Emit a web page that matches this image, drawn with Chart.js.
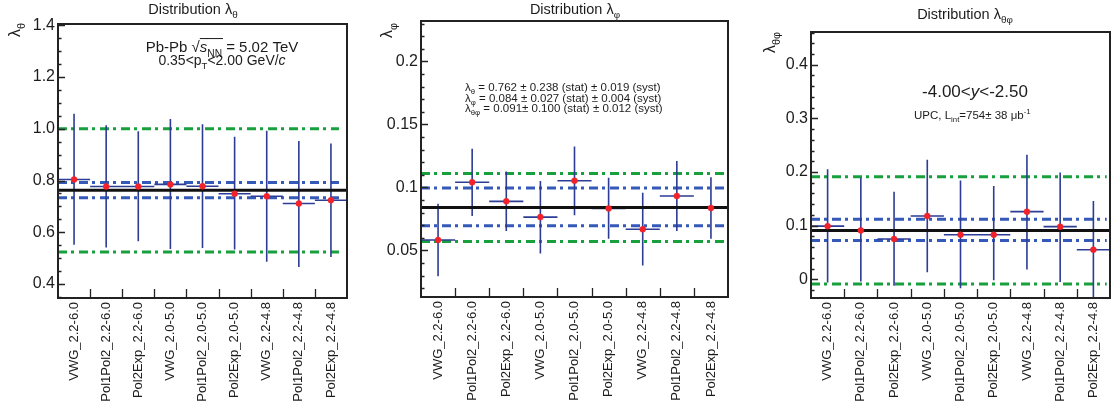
<!DOCTYPE html>
<html>
<head>
<meta charset="utf-8">
<script src="https://cdn.jsdelivr.net/npm/chart.js@4.4.1/dist/chart.umd.min.js"></script>
<style>
  body { margin: 0; background: #fff; width: 1120px; height: 412px; position: relative; overflow: hidden; }
  canvas { position: absolute; top: 0; }
</style>
</head>
<body>
<canvas id="c1" width="373" height="412" style="left:0px"></canvas>
<canvas id="c2" width="372" height="412" style="left:373px"></canvas>
<canvas id="c3" width="375" height="412" style="left:745px"></canvas>
<script>
// fit variants (x categories)
const fits = ["VWG_2.2-6.0", "Pol1Pol2_2.2-6.0", "Pol2Exp_2.2-6.0", "VWG_2.0-5.0", "Pol1Pol2_2.0-5.0",
              "Pol2Exp_2.0-5.0", "VWG_2.2-4.8", "Pol1Pol2_2.2-4.8", "Pol2Exp_2.2-4.8"];

// lambda theta
const thetaVal = [0.804, 0.777, 0.777, 0.785, 0.778, 0.749, 0.739, 0.711, 0.724];
const thetaLo  = [0.552, 0.541, 0.565, 0.535, 0.539, 0.533, 0.486, 0.466, 0.504];
const thetaHi  = [1.058, 1.014, 0.990, 1.038, 1.018, 0.969, 0.992, 0.953, 0.943];
const thetaMean = 0.762;
const thetaStat = [0.524, 1.000];
const thetaSyst = [0.733, 0.792];

// lambda phi
const phiVal = [0.0582, 0.1040, 0.0889, 0.0764, 0.1053, 0.0833, 0.0667, 0.0931, 0.0836];
const phiLo  = [0.0294, 0.0772, 0.0653, 0.0476, 0.0778, 0.0593, 0.0379, 0.0653, 0.0593];
const phiHi  = [0.0870, 0.1307, 0.1125, 0.1050, 0.1325, 0.1077, 0.0958, 0.1209, 0.1080];
const phiMean = 0.084;
const phiStat = [0.057, 0.111];
const phiSyst = [0.0696, 0.0995];

// lambda theta-phi
const tpVal = [0.099, 0.091, 0.075, 0.118, 0.083, 0.083, 0.126, 0.098, 0.055];
const tpLo  = [-0.006, -0.004, -0.012, 0.013, -0.017, -0.002, 0.018, -0.005, -0.045];
const tpHi  = [0.205, 0.189, 0.163, 0.223, 0.184, 0.174, 0.232, 0.199, 0.146];
const tpMean = 0.091;
const tpStat = [-0.009, 0.191];
const tpSyst = [0.072, 0.112];

const FAM = '"Liberation Sans", Arial, Helvetica, sans-serif';
const INK = '#1c1c1c';
Chart.defaults.font.family = FAM;

// draw text with sub/superscripts, italics, overline
function rich(ctx, parts, x, y, size, align) {
  const fontOf = p => (p.i ? 'italic ' : '') + (p.s ? size * 0.68 : size).toFixed(1) + 'px ' + FAM;
  let w = 0;
  for (const p of parts) { ctx.font = fontOf(p); p.w = ctx.measureText(p.t).width; w += p.w; }
  let cx = align === 'center' ? x - w / 2 : align === 'right' ? x - w : x;
  ctx.textAlign = 'left';
  ctx.textBaseline = 'alphabetic';
  for (const p of parts) {
    ctx.font = fontOf(p);
    const dy = p.s === 'sub' ? size * 0.3 : p.s === 'sup' ? -size * 0.42 : 0;
    ctx.fillText(p.t, cx, y + dy);
    if (p.o) {
      ctx.fillRect(cx, y - size * 0.93, p.w + 1, 1);
    }
    cx += p.w;
  }
}

function makeFrame(major, minor, offsetX, texts) {
  return {
    id: 'frame',
    afterDatasetsDraw(chart) {
      const { ctx, chartArea: a, scales } = chart;
      ctx.save();
      ctx.strokeStyle = '#222';
      ctx.lineWidth = 1.3;
      ctx.beginPath();
      for (let i = 1; i < fits.length; i++) {
        const px = Math.round(scales.x.getPixelForValue(i)) + 0.5;
        ctx.moveTo(px, a.bottom); ctx.lineTo(px, a.bottom - 9);
      }
      const y = scales.y;
      const k0 = Math.ceil(y.min / minor - 1e-6), k1 = Math.floor(y.max / minor + 1e-6);
      for (let k = k0; k <= k1; k++) {
        const v = k * minor, r = v / major;
        const isMajor = Math.abs(r - Math.round(r)) < 1e-6;
        const py = Math.round(y.getPixelForValue(v)) + 0.5;
        ctx.moveTo(a.left, py); ctx.lineTo(a.left + (isMajor ? 7 : 3.5), py);
      }
      ctx.stroke();
      ctx.lineWidth = 2;
      ctx.strokeRect(a.left, a.top, a.right - a.left, a.bottom - a.top);
      ctx.restore();
    },
    afterDraw(chart) {
      const ctx = chart.ctx;
      ctx.save();
      ctx.fillStyle = INK;
      for (const tx of texts) {
        if (tx.rot) {
          ctx.save();
          ctx.translate(tx.x - offsetX, tx.y);
          ctx.rotate(-Math.PI / 2);
          rich(ctx, tx.parts, 0, 0, tx.size, tx.align);
          ctx.restore();
        } else {
          rich(ctx, tx.parts, tx.x - offsetX, tx.y, tx.size, tx.align);
        }
      }
      ctx.restore();
    }
  };
}

function hline(v, x0, x1) { return [{ x: x0, y: v }, { x: x1, y: v }]; }

function panel(id, p) {
  const vbars = [], hbars = [], pts = [];
  p.val.forEach((v, i) => {
    vbars.push({ x: i + 0.5, y: p.lo[i] }, { x: i + 0.5, y: p.hi[i] }, { x: i + 0.5, y: null });
    hbars.push({ x: i, y: v }, { x: i + 1, y: v }, { x: i + 1, y: null });
    pts.push({ x: i + 0.5, y: v });
  });
  const dash = [9, 4, 3, 5];
  const lineDs = (data, color, width, borderDash) => ({
    type: 'scatter', data, showLine: true, borderColor: color, borderWidth: width,
    borderDash: borderDash || [], pointRadius: 0, fill: false
  });
  return new Chart(document.getElementById(id), {
    type: 'scatter',
    data: {
      datasets: [
        { data: pts, pointRadius: 3, pointBackgroundColor: '#f2222b', pointBorderColor: '#f2222b', pointBorderWidth: 0.5 },
        lineDs(hline(p.mean, 0, 9), '#111111', 3),
        lineDs(hbars, '#2d3c94', 1.6),
        lineDs(vbars, '#2d3c94', 1.6),
        lineDs(hline(p.syst[0], 0, p.xEnd), '#3559b8', 3, dash),
        lineDs(hline(p.syst[1], 0, p.xEnd), '#3559b8', 3, dash),
        lineDs(hline(p.stat[0], 0, p.xEnd), '#17a03c', 3, dash),
        lineDs(hline(p.stat[1], 0, p.xEnd), '#17a03c', 3, dash)
      ]
    },
    options: {
      responsive: false,
      animation: false,
      events: [],
      layout: { padding: { left: 0, top: p.top, right: p.right, bottom: 0 } },
      plugins: { legend: { display: false }, tooltip: { enabled: false } },
      scales: {
        x: { type: 'linear', min: 0, max: 9, display: false },
        xc: {
          type: 'category', labels: fits, position: 'bottom', offset: true,
          grid: { display: false, drawTicks: false }, border: { display: false },
          ticks: { autoSkip: false, minRotation: 90, maxRotation: 90, padding: 4, color: INK, font: { size: 13 } },
          afterFit: s => { s.height = p.bottom; }
        },
        y: {
          min: p.min, max: p.max,
          grid: { display: false, drawTicks: false }, border: { display: false },
          ticks: { padding: 3, color: INK, font: { size: 16 }, autoSkip: false, callback: v => p.fmt(v) },
          afterBuildTicks: s => {
            const t = [];
            for (let k = Math.ceil(p.min / p.major - 1e-6); k * p.major <= p.max + 1e-9; k++) {
              t.push({ value: Math.round(k * p.major * 1e6) / 1e6 });
            }
            s.ticks = t;
          },
          afterFit: s => { s.width = p.left; }
        }
      }
    },
    plugins: [makeFrame(p.major, p.minor, p.offsetX, p.texts)]
  });
}

panel('c1', {
  val: thetaVal, lo: thetaLo, hi: thetaHi, mean: thetaMean, stat: thetaStat, syst: thetaSyst,
  min: 0.346, max: 1.405, major: 0.2, minor: 0.05, xEnd: 8.75,
  fmt: v => v.toFixed(1),
  left: 58, top: 24, right: 26, bottom: 114, offsetX: 0,
  texts: [
    { x: 193, y: 14, size: 14.5, align: 'center', parts: [{ t: 'Distribution λ' }, { t: 'θ', s: 'sub' }] },
    { rot: true, x: 20, y: 23, size: 16, align: 'right', parts: [{ t: 'λ' }, { t: 'θ', s: 'sub' }] },
    { x: 222, y: 52, size: 15, align: 'center',
      parts: [{ t: 'Pb-Pb ' }, { t: '√' }, { t: 's', i: true, o: true }, { t: 'NN', s: 'sub', o: true }, { t: ' = 5.02 TeV' }] },
    { x: 222, y: 65, size: 14, align: 'center',
      parts: [{ t: '0.35<p' }, { t: 'T', s: 'sub' }, { t: '<2.00 GeV/' }, { t: 'c', i: true }] }
  ]
});

panel('c2', {
  val: phiVal, lo: phiLo, hi: phiHi, mean: phiMean, stat: phiStat, syst: phiSyst,
  min: 0.013, max: 0.232, major: 0.05, minor: 0.01, xEnd: 8.97,
  fmt: v => String(parseFloat(v.toFixed(2))),
  left: 48, top: 21, right: 17, bottom: 115, offsetX: 373,
  texts: [
    { x: 575, y: 14, size: 14.5, align: 'center', parts: [{ t: 'Distribution λ' }, { t: 'φ', s: 'sub' }] },
    { rot: true, x: 392, y: 23, size: 16, align: 'right', parts: [{ t: 'λ' }, { t: 'φ', s: 'sub' }] },
    { x: 465, y: 91, size: 11.5, align: 'left',
      parts: [{ t: 'λ' }, { t: 'θ', s: 'sub' }, { t: ' = 0.762 ± 0.238 (stat) ± 0.019 (syst)' }] },
    { x: 465, y: 101.5, size: 11.5, align: 'left',
      parts: [{ t: 'λ' }, { t: 'φ', s: 'sub' }, { t: ' = 0.084 ± 0.027 (stat) ± 0.004 (syst)' }] },
    { x: 465, y: 112, size: 11.5, align: 'left',
      parts: [{ t: 'λ' }, { t: 'θφ', s: 'sub' }, { t: ' = 0.091± 0.100 (stat) ± 0.012 (syst)' }] }
  ]
});

panel('c3', {
  val: tpVal, lo: tpLo, hi: tpHi, mean: tpMean, stat: tpStat, syst: tpSyst,
  min: -0.035, max: 0.461, major: 0.1, minor: 0.02, xEnd: 8.9,
  fmt: v => String(parseFloat(v.toFixed(2))),
  left: 66, top: 32, right: 10, bottom: 114, offsetX: 745,
  texts: [
    { x: 965, y: 18.5, size: 14.5, align: 'center', parts: [{ t: 'Distribution λ' }, { t: 'θφ', s: 'sub' }] },
    { rot: true, x: 775, y: 32, size: 16, align: 'right', parts: [{ t: 'λ' }, { t: 'θφ', s: 'sub' }] },
    { x: 975, y: 97, size: 17, align: 'center', parts: [{ t: '-4.00<' }, { t: 'y', i: true }, { t: '<-2.50' }] },
    { x: 914, y: 119, size: 11.5, align: 'left',
      parts: [{ t: 'UPC, L' }, { t: 'int', s: 'sub' }, { t: '=754± 38 μb' }, { t: '-1', s: 'sup' }] }
  ]
});
</script>
</body>
</html>
